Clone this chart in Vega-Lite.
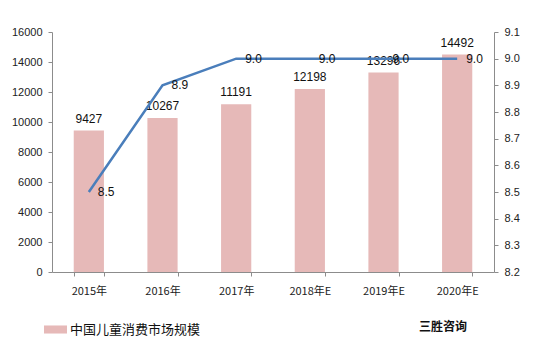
{
  "$schema": "https://vega.github.io/schema/vega-lite/v6.json",
  "width": 442,
  "height": 240,
  "autosize": {"type": "none"},
  "padding": {"left": 52, "top": 32, "right": 50, "bottom": 81},
  "background": "white",
  "config": {
    "font": "Liberation Sans, Noto Sans CJK SC, sans-serif",
    "view": {"stroke": null},
    "axis": {"labelFont": "Liberation Sans, Noto Sans CJK SC, sans-serif", "labelFontSize": 11, "labelColor": "#222", "domainColor": "#8c8c8c", "tickColor": "#8c8c8c", "tickSize": 4, "grid": false, "title": null}
  },
  "title": {"text": "三胜咨询", "orient": "bottom", "anchor": "end", "frame": "group", "fontSize": 12, "fontWeight": "bold", "color": "#111", "font": "Noto Sans CJK SC", "dx": -27, "offset": -15},
  "data": {"values": [
    {"year": "2015年", "value": 9427, "rate": 8.5, "series": "中国儿童消费市场规模"},
    {"year": "2016年", "value": 10267, "rate": 8.9, "series": "中国儿童消费市场规模"},
    {"year": "2017年", "value": 11191, "rate": 9.0, "series": "中国儿童消费市场规模"},
    {"year": "2018年E", "value": 12198, "rate": 9.0, "series": "中国儿童消费市场规模"},
    {"year": "2019年E", "value": 13296, "rate": 9.0, "series": "中国儿童消费市场规模"},
    {"year": "2020年E", "value": 14492, "rate": 9.0, "series": "中国儿童消费市场规模"}
  ]},
  "encoding": {
    "x": {"field": "year", "type": "ordinal", "sort": null,
      "scale": {"paddingInner": 0.59, "paddingOuter": 0.295},
      "axis": {"labelAngle": 0, "tickBand": "extent", "labelPadding": 9, "labelFont": "Noto Sans CJK SC", "labelFontSize": 11}}
  },
  "layer": [
    {
      "encoding": {
        "y": {"field": "value", "type": "quantitative",
          "scale": {"domain": [0, 16000], "nice": false},
          "axis": {"values": [0, 2000, 4000, 6000, 8000, 10000, 12000, 14000, 16000], "format": "d", "labelPadding": 6}}
      },
      "layer": [
        {"mark": {"type": "bar", "color": "#E6B9B8"},
          "encoding": {"color": {"field": "series", "type": "nominal", "scale": {"range": ["#E6B9B8"]},
            "legend": {"title": null, "orient": "none", "legendX": -8, "legendY": 286, "symbolType": "M-1,-0.35H1V0.35H-1Z", "symbolSize": 529, "symbolStrokeWidth": 0, "labelFontSize": 13, "labelFont": "Noto Sans CJK SC", "labelColor": "#111", "labelOffset": 3}}}},
        {"mark": {"type": "text", "baseline": "bottom", "dy": -5, "fontSize": 12, "color": "#111"},
          "encoding": {"text": {"field": "value", "type": "quantitative", "format": "d"}}}
      ]
    },
    {
      "encoding": {
        "y": {"field": "rate", "type": "quantitative",
          "scale": {"domain": [8.2, 9.1], "nice": false, "zero": false},
          "axis": {"orient": "right", "values": [8.2, 8.3, 8.4, 8.5, 8.6, 8.7, 8.8, 8.9, 9.0, 9.1], "format": ".1f", "labelPadding": 6}}
      },
      "layer": [
        {"mark": {"type": "line", "color": "#4A7EBB", "strokeWidth": 2.5}},
        {"mark": {"type": "text", "align": "left", "baseline": "middle", "dx": 9, "fontSize": 12, "color": "#111"},
          "encoding": {"text": {"field": "rate", "type": "quantitative", "format": ".1f"}}}
      ]
    }
  ],
  "resolve": {"scale": {"y": "independent", "color": "independent"}}
}
